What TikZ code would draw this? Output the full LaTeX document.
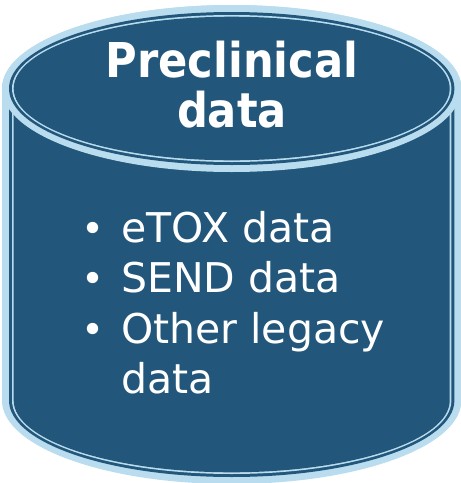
\documentclass[tikz,border=0pt]{standalone}
\usepackage{fontspec}
\setmainfont{DejaVu Sans}
\newfontfamily\titlefont{DejaVu Sans Condensed}
\definecolor{cyldark}{HTML}{22567A}
\definecolor{cyllight}{HTML}{B9DDEF}
\newcommand{\cylbody}[2]{% #1 = inset, #2 = color
  \fill[#2] ({9+#1},88.5) -- ({9+#1},400.5)
    arc[start angle=180,end angle=0,x radius={222.7-(#1)},y radius={76.5-(#1)}]
    -- ({454.4-(#1)},88.5)
    arc[start angle=0,end angle=-180,x radius={222.7-(#1)},y radius={76.5-(#1)}] -- cycle;}
\newcommand{\cyltop}[2]{%
  \fill[#2] (231.7,88.5) ellipse[x radius={222.7-(#1)},y radius={76.5-(#1)}];}
\tikzset{
  titletext/.style={text=white,inner sep=0pt,anchor=base,font=\titlefont\bfseries\fontsize{48}{50}\selectfont},
  bodytext/.style={text=white,inner sep=0pt,anchor=base west,font=\fontsize{41}{50}\selectfont},
  bullettext/.style={text=white,inner sep=0pt,anchor=base,font=\fontsize{39}{50}\selectfont}
}
\begin{document}
\begin{tikzpicture}[x=1pt,y=-1pt]
\useasboundingbox (0,0) rectangle (461,483);
% body with triple border
\cylbody{-7}{cyllight}
\cylbody{0}{cyldark}
\cylbody{3}{cyllight}
\cylbody{4.7}{cyldark}
% top ellipse with triple border
\cyltop{-7}{cyllight}
\cyltop{0}{cyldark}
\cyltop{3}{cyllight}
\cyltop{4.7}{cyldark}
% title
\node[titletext] (t1) at (232,77) {Preclinical};
\node[titletext] (t2) at (232,127) {data};
% bullets
\node[bullettext] (b1) at (93,242) {•};
\node[bodytext] (l1) at (121,242) {eTOX data};
\node[bullettext] (b2) at (93,292) {•};
\node[bodytext] (l2) at (121,292) {SEND data};
\node[bullettext] (b3) at (93,343) {•};
\node[bodytext] (l3) at (121,343) {Other legacy};
\node[bodytext] (l4) at (121,393) {data};
\end{tikzpicture}
\end{document}
